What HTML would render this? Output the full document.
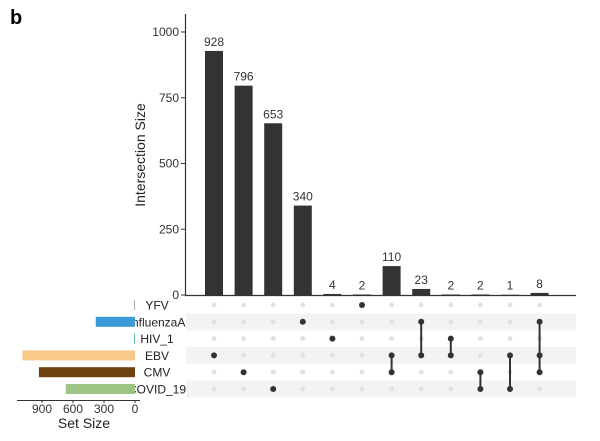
<!DOCTYPE html>
<html><head><meta charset="utf-8"><style>
body{margin:0;background:#fff}
svg{font-family:"Liberation Sans",Arial,sans-serif}
</style></head><body>
<svg id="chart" width="600" height="436" viewBox="0 0 600 436">
<text x="10" y="24" font-size="20" font-weight="bold">b</text>
<g id="g"></g>
</svg>
<script>
const sets=["YFV","InfluenzaA","HIV_1","EBV","CMV","COVID_19"];
const setSizes=[8,380,10,1090,930,670];
const setColors=["#999","#3b9ad8","#5fb8a0","#f9c98a","#6b4210","#9dc385"];
const counts=[928,796,653,340,4,2,110,23,2,2,1,8];
const members=[[3],[4],[5],[1],[2],[0],[3,4],[1,3],[2,3],[4,5],[3,5],[1,3,4]];
const yTicks=[0,250,500,750,1000];
const sTicks=[0,300,600,900];
const NS="http://www.w3.org/2000/svg";
const g=document.getElementById('g');
function el(t,a,txt){const e=document.createElementNS(NS,t);for(const k in a)e.setAttribute(k,a[k]);if(txt!==undefined)e.textContent=txt;g.appendChild(e);return e;}
const y0=295,yk=263/1000,x0=214,dx=29.6,bw=18;
const Y=v=>y0-v*yk, X=i=>x0+i*dx;
const rowY=i=>305+i*16.8;
const sx0=135,sk=31/300, SX=v=>sx0-v*sk;
// matrix stripes
sets.forEach((s,i)=>{if(i%2===1){const r=el('rect',{x:186,y:rowY(i)-8.4,width:390,height:16.8,fill:'#f3f3f3'});}});
// y axis
let a=el('line',{x1:185.5,y1:14,x2:185.5,y2:y0,stroke:'#333','stroke-width':1.2});
a=el('line',{x1:185,y1:y0+0.5,x2:576,y2:y0+0.5,stroke:'#333','stroke-width':1.2});
yTicks.forEach(v=>{const l=el('line',{x1:181,x2:185,y1:Y(v),y2:Y(v),stroke:'#333'});
const t=el('text',{x:179,y:Y(v)+4,'text-anchor':'end','font-size':12,fill:'#333'},v);});
a=el('text',{x:0,y:0,'font-size':14,fill:'#222','text-anchor':'middle',transform:'translate(145,155) rotate(-90)'},'Intersection Size');
counts.forEach((c,i)=>{const b=el('rect',{x:X(i)-bw/2,y:Y(c),width:bw,height:Math.max(c*yk,0.8),fill:'#333'});
const t=el('text',{x:X(i),y:Y(c)-5,'text-anchor':'middle','font-size':12,fill:'#333'},c);});
// matrix dots
counts.forEach((c,i)=>{const m=members[i];sets.forEach((s,j)=>{const on=m.includes(j);const d=el('circle',{cx:X(i),cy:rowY(j),r:on?3:2.5,fill:on?'#333':'#e2e2e2'});});
if(m.length>1){const l=el('line',{x1:X(i),x2:X(i),y1:rowY(Math.min(...m)),y2:rowY(Math.max(...m)),stroke:'#333','stroke-width':2});}});
// set labels & bars
sets.forEach((s,i)=>{const t=el('text',{x:157,y:rowY(i)+4.5,'text-anchor':'middle','font-size':12,fill:'#222'},s);
const b=el('rect',{x:SX(setSizes[i]),y:rowY(i)-5,width:setSizes[i]*sk,height:10,fill:setColors[i]});});
a=el('line',{x1:17,x2:140,y1:400.5,y2:400.5,stroke:'#333'});
sTicks.forEach(v=>{const l=el('line',{x1:SX(v),x2:SX(v),y1:400,y2:403,stroke:'#333'});
const t=el('text',{x:SX(v),y:413,'text-anchor':'middle','font-size':12,fill:'#333'},v);});
a=el('text',{x:84,y:428,'text-anchor':'middle','font-size':14,fill:'#222'},'Set Size');
</script>
</body></html>
